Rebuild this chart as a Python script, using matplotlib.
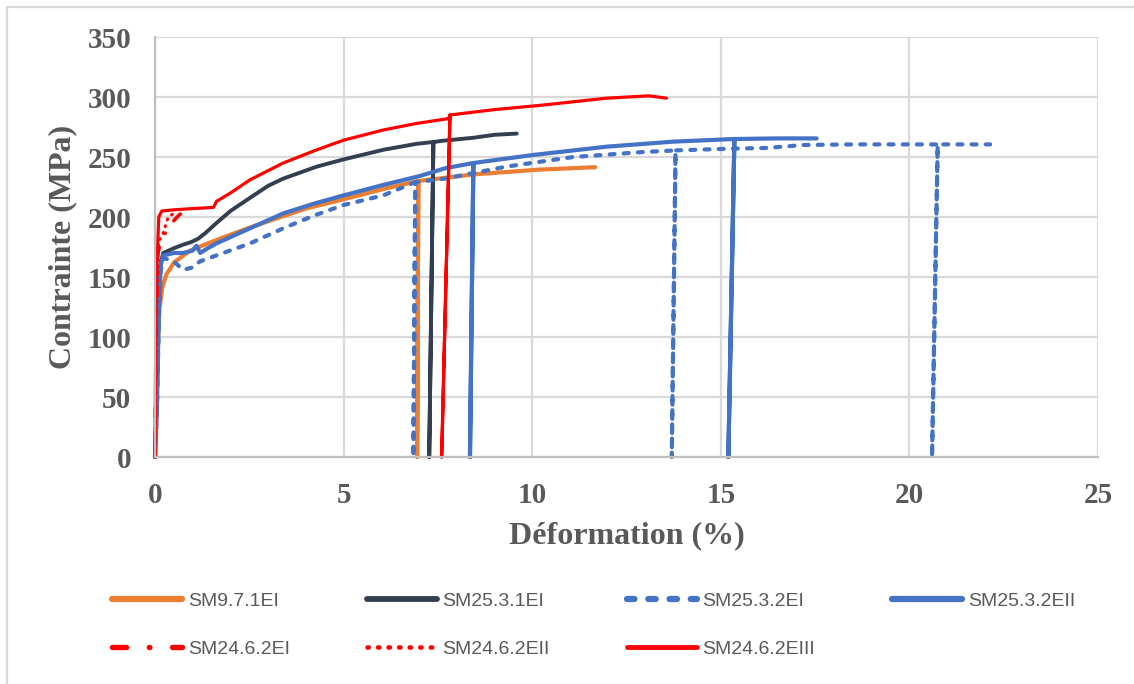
import matplotlib
matplotlib.use("Agg")
import matplotlib.pyplot as plt
from matplotlib.patches import Rectangle

# ---------------- data ----------------
labels = ["SM9.7.1EI", "SM25.3.1EI", "SM25.3.2EI", "SM25.3.2EII",
          "SM24.6.2EI", "SM24.6.2EII", "SM24.6.2EIII"]

strain_971EI = [0, 0.05, 0.1, 0.2, 0.3, 0.5, 0.93, 1.4, 1.81, 2.5, 3.14, 4.0, 4.9, 6.14, 6.98,
                6.95, 6.98, 8.44, 10.2, 11.67]
stress_971EI = [0, 60, 120, 142, 152, 162, 172, 178, 183, 191, 198, 207, 214, 224, 230,
                0, 230, 235.5, 239.5, 241.5]

strain_2531EI = [0, 0.05, 0.1, 0.15, 0.22, 0.5, 0.75, 0.95, 1.15, 1.35, 1.63, 2.0, 2.52, 3.0,
                 3.4, 4.29, 5.0, 6.05, 6.94, 7.38, 7.27, 7.38, 7.64, 8.43, 9.0, 9.59]
stress_2531EI = [0, 50, 130, 162, 170, 174, 177, 179, 182, 187, 195, 205, 216, 226,
                 232, 242, 248, 256, 261, 262.5, 0, 262.5, 263.6, 266, 268.5, 269.5]

strain_2532EI = [0, 0.05, 0.1, 0.15, 0.22, 0.49, 0.75, 1.0, 1.19, 1.63, 2.52, 3.4, 4.2, 5.0, 6.05,
                 6.9, 6.85, 6.9, 7.69, 8.5, 9.32, 10.2, 11.09, 12.0, 12.86, 13.8, 13.7, 13.8,
                 15.33, 16.2, 17.2, 18.5, 20.0, 20.75, 20.6, 20.75, 22.14]
stress_2532EI = [0, 40, 110, 155, 166, 163, 156, 158, 163, 168, 178, 190.6, 201, 210, 218,
                 229, 0, 229, 232, 237, 242, 246, 250, 252, 254, 255.5, 0, 255.5,
                 257, 257.5, 260, 260.5, 260.5, 260.5, 0, 260.5, 260.5]

strain_2532EII = [0, 0.05, 0.1, 0.15, 0.22, 0.5, 0.75, 1.0, 1.1, 1.2, 1.4, 1.63, 2.52, 3.4, 4.2,
                  5.0, 6.05, 7.0, 7.69, 8.44, 8.35, 8.44, 10.03, 11.97, 13.74, 15.36, 15.2, 15.36,
                  16.5, 17.54]
stress_2532EII = [0, 40, 120, 160, 168, 170, 170, 172, 176, 170, 174, 178, 190.6, 203, 211,
                  218, 226.7, 234, 240.6, 245, 0, 245, 251.7, 258.6, 262.8, 265, 0, 265,
                  265.5, 265.5]

strain_2462EI = [0, 0.03, 0.08, 0.15, 0.22, 0.3, 0.4, 0.5, 0.65, 0.8]
stress_2462EI = [0, 100, 170, 180, 184, 188, 192, 197, 202, 205]

strain_2462EII = [0, 0.04, 0.1, 0.2, 0.25, 0.3, 0.35, 0.45, 0.55]
stress_2462EII = [0, 120, 180, 185, 190, 195, 200, 202, 204]

strain_2462EIII = [0, 0.02, 0.05, 0.1, 0.18, 0.5, 1.0, 1.55, 1.63, 2.0, 2.52, 3.4, 4.29, 5.0,
                   6.05, 6.94, 7.78, 7.82, 7.6, 7.82, 9.0, 10.2, 11.97, 13.1, 13.56]
stress_2462EIII = [0, 105, 160, 200, 205, 206, 207, 208, 213, 220, 231, 245, 256, 264,
                   272.5, 278, 282, 285, 0, 285, 289.5, 293, 299, 301, 299]

x_ticks = [0, 5, 10, 15, 20, 25]
y_ticks = [0, 50, 100, 150, 200, 250, 300, 350]

# ---------------- style ----------------
ORANGE = "#ED7D31"
DARK = "#333F50"
BLUE = "#4472C4"
RED = "#FF0000"
GRAY_TXT = "#595959"
GRID = "#D9D9D9"

W, H = 1134, 684
fig = plt.figure(figsize=(W / 100, H / 100), dpi=100)
ax = fig.add_axes([155 / W, 1 - 457 / H, (1098 - 155) / W, (457 - 37) / H])

series = [
    (strain_971EI, stress_971EI, dict(color=ORANGE, lw=3.0, ls="-")),
    (strain_2531EI, stress_2531EI, dict(color=DARK, lw=2.8, ls="-")),
    (strain_2532EI, stress_2532EI, dict(color=BLUE, lw=3.0, ls=(0, (1.2, 2.2)),
                                        dash_capstyle="round")),
    (strain_2532EII, stress_2532EII, dict(color=BLUE, lw=3.0, ls="-")),
    (strain_2462EI, stress_2462EI, dict(color=RED, lw=2.6, ls=(0, (2.6, 4.2, 0.1, 4.2)),
                                        dash_capstyle="round")),
    (strain_2462EII, stress_2462EII, dict(color=RED, lw=2.2, ls=(0, (0.3, 2.0)),
                                          dash_capstyle="round")),
    (strain_2462EIII, stress_2462EIII, dict(color=RED, lw=2.3, ls="-")),
]
handles = []
for (xs, ys, st), lab in zip(series, labels):
    ln, = ax.plot(xs, ys, label=lab, solid_capstyle="round", solid_joinstyle="round",
                  clip_on=False, **st)
    handles.append(ln)

ax.set_xlim(0, 25)
ax.set_ylim(0, 350)
ax.set_xticks(x_ticks)
ax.set_yticks(y_ticks)
ax.grid(True, color=GRID, lw=1.6)
ax.set_axisbelow(True)
for s in ["top", "right"]:
    ax.spines[s].set_visible(False)
for s in ["left", "bottom"]:
    ax.spines[s].set_color("#BFBFBF")
    ax.spines[s].set_linewidth(1.6)

ax.tick_params(axis="both", length=0, colors=GRAY_TXT)
ax.tick_params(axis="y", pad=17)
ax.tick_params(axis="x", pad=18)
for t in ax.get_xticklabels() + ax.get_yticklabels():
    t.set_fontfamily("Liberation Serif")
    t.set_fontweight("bold")
    t.set_fontsize(21)
    t.set_color(GRAY_TXT)

ax.set_xlabel("Déformation (%)", fontfamily="Liberation Serif", fontweight="bold",
              fontsize=23, color=GRAY_TXT)
ax.set_ylabel("Contrainte (MPa)", fontfamily="Liberation Serif", fontweight="bold",
              fontsize=23, color=GRAY_TXT)
ax.xaxis.label.set_va("center")
ax.yaxis.label.set_va("center")
ax.xaxis.set_label_coords(0.5, (457 - 536) / 420)
ax.yaxis.set_label_coords((63 - 155) / 943, 0.5)

# legend: row-wise order in 4 columns
order = [0, 4, 1, 5, 2, 6, 3]
leg = fig.legend([handles[i] for i in order], [labels[i] for i in order],
                 ncol=4, loc="upper left", bbox_to_anchor=(112 / W, 1 - 592 / H),
                 frameon=False, borderpad=0, borderaxespad=0,
                 handlelength=3.6, handletextpad=0.3, columnspacing=3.95,
                 labelspacing=1.56,
                 prop=dict(family="Liberation Sans", size=14))
for t in leg.get_texts():
    t.set_color(GRAY_TXT)
for lh in leg.legend_handles:
    lh.set_linewidth(lh.get_linewidth() * 1.5)

# outer chart border
fig.patches.append(Rectangle((7 / W, -0.1), 1.2, 1 - 7 / H + 0.1, transform=fig.transFigure,
                             fill=False, edgecolor=GRID, lw=1.6))

fig.savefig("out.png", dpi=100)
